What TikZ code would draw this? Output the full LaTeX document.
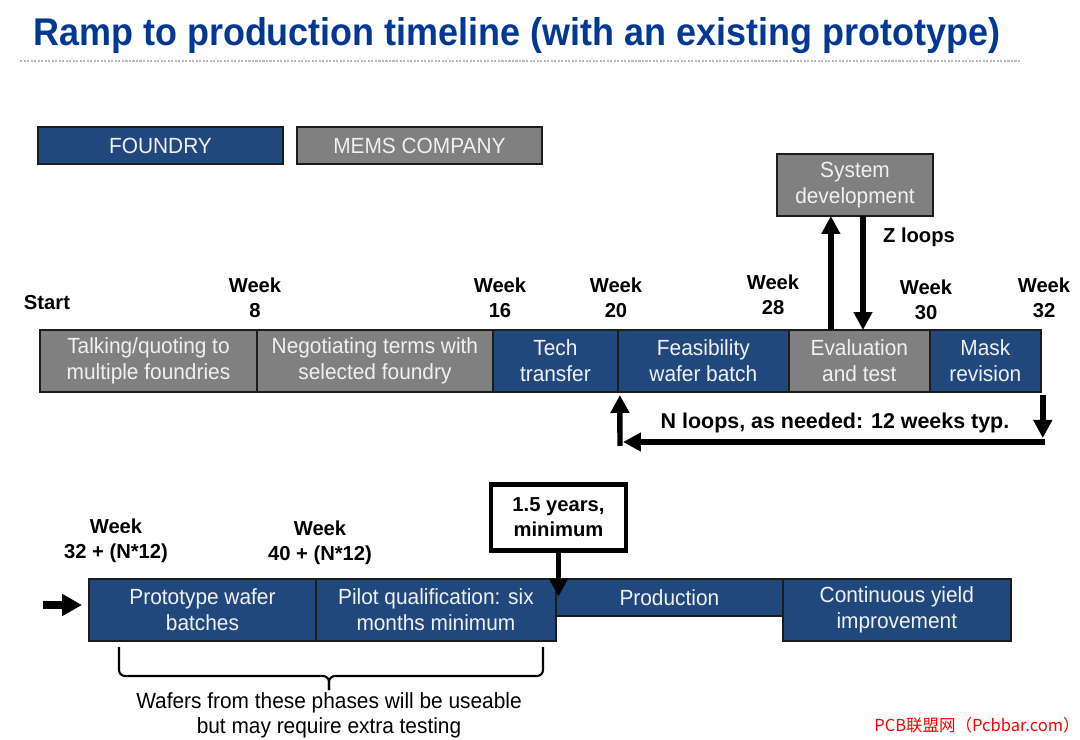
\documentclass[tikz,border=0pt]{standalone}
\usepackage{fontspec}
\setmainfont{Liberation Sans}[FakeStretch=0.95]
\newfontfamily\RampTitleFont{Liberation Sans}[FakeStretch=0.93]
\newfontfamily\RampLabelFont{Liberation Sans}
\newfontfamily\RampMarkFont{Noto Sans CJK SC}
\usetikzlibrary{positioning,arrows.meta}

\definecolor{rampblue}{RGB}{33,72,125}
\definecolor{rampgray}{RGB}{128,128,128}
\definecolor{ramptitle}{RGB}{0,56,147}
\definecolor{rampborder}{RGB}{28,28,28}
\definecolor{ramptext}{RGB}{240,240,240}

\def\RampBoxLW{1.1pt}
\def\RampLoopLW{3.1pt}
\def\RampFeedLW{4.2pt}
\def\RampRowHeight{1.24cm}
\newcommand{\RampStyles}{%
  \tikzset{
    rphase/.style={rectangle, draw=rampborder, line width=\RampBoxLW,
      text=ramptext, align=center, inner sep=0pt, outer sep=0pt,
      minimum height=\RampRowHeight,
      font=\fontsize{12.5}{14.7}\selectfont},
    rphaseFoundry/.style={rphase, fill=rampblue},
    rphaseMems/.style={rphase, fill=rampgray},
    rlegend/.style={rphase, minimum width=4.9cm, minimum height=0.74cm},
    rweek/.style={align=center, inner sep=0pt,
      font=\RampLabelFont\bfseries\fontsize{11.5}{14.2}\selectfont},
    rnote/.style={align=center, inner sep=0pt,
      font=\fontsize{12.5}{14.2}\selectfont},
    rcallout/.style={rectangle, draw=black, line width=2.3pt, fill=white,
      align=center, inner sep=0pt, minimum width=2.7cm, minimum height=1.32cm,
      font=\RampLabelFont\bfseries\fontsize{11.5}{14.2}\selectfont},
    rloop/.style={
      ->, line width=\RampLoopLW,
      >={Triangle[length=0.36cm, width=0.36cm]}},
    rfeed/.style={
      ->, line width=\RampFeedLW,
      >={Triangle[length=0.4cm, width=0.42cm]}},
    rbrace/.style={line width=1.2pt, rounded corners=0.12cm},
    rrule/.style={gray!55, line width=0.9pt, dash pattern=on 1.2pt off 0.8pt},
  }%
}

\begin{document}
\begin{tikzpicture}[x=0.02cm, y=-0.02cm]
  \RampStyles
  \useasboundingbox (0,0) rectangle (1080,740);

  % title
  \node[anchor=base west, inner sep=0pt, text=ramptitle,
    font=\RampTitleFont\bfseries\fontsize{22}{26}\selectfont] (title) at (33,46)
    {Ramp to production timeline (with an existing prototype)};
  \draw[rrule] (20,61) -- (1020,61);

  % legend
  \node[rlegend, fill=rampblue] (legfoundry) at (160.5,145.5) {FOUNDRY};
  \node[rlegend, fill=rampgray, right=0.28cm of legfoundry] (legmems) {MEMS COMPANY};

  % first pass
  \node[rphaseMems, minimum width=4.34cm, anchor=north west] (talk) at (40,330)
    {Talking/quoting to\\multiple foundries};
  \node[rphaseMems, minimum width=4.72cm, right=0pt of talk] (nego)
    {Negotiating terms with\\selected foundry};
  \node[rphaseFoundry, minimum width=2.5cm, right=0pt of nego] (tech)
    {Tech\\transfer};
  \node[rphaseFoundry, minimum width=3.42cm, right=0pt of tech] (feas)
    {Feasibility\\wafer batch};
  \node[rphaseMems, minimum width=2.82cm, right=0pt of feas] (eval)
    {Evaluation\\and test};
  \node[rphaseFoundry, minimum width=2.22cm, right=0pt of eval] (mask)
    {Mask\\revision};
  \node[rphaseMems, minimum width=3.12cm] (sysdev) at (855,185)
    {System\\development};

  \node[rweek] (start) at (47,303) {Start};
  \node[rweek] (wk8) at (255,298) {Week\\8};
  \node[rweek] (wk16) at (500,298) {Week\\16};
  \node[rweek] (wk20) at (616,298) {Week\\20};
  \node[rweek] (wk28) at (773,295) {Week\\28};
  \node[rweek] (wk30) at (926,300) {Week\\30};
  \node[rweek] (wk32) at (1044,298) {Week\\32};

  % Z loops
  \draw[rloop] ([xshift=-0.57cm]eval.north) -- ([xshift=-0.57cm]eval.north |- sysdev.south);
  \draw[rloop] ([xshift=0.16cm]sysdev.south) -- ([xshift=0.16cm]sysdev.south |- eval.north);
  \node[rweek] (zloops) at (919,237) {Z loops};

  % N loops
  \coordinate (ndrop) at ([xshift=0.04cm, yshift=-0.06cm]mask.south east);
  \coordinate (nright) at (1045,442);
  \coordinate (nleft) at (620,446);
  \draw[rloop] (ndrop) -- ++(0,43);
  \draw[rloop, shorten >=0.06cm] (nright) -- (nright -| nleft);
  \draw[rloop] (nleft) -- ([xshift=0.04cm, yshift=-0.06cm]feas.south west);
  \node[rweek, font=\RampLabelFont\bfseries\fontsize{12.2}{14.2}\selectfont]
    (nloops) at (835,423) {N loops, as needed: 12 weeks typ.};

  % second pass
  \node[rphaseFoundry, minimum width=4.54cm, anchor=north west] (proto) at (89,579)
    {Prototype wafer\\batches};
  \node[rphaseFoundry, minimum width=4.8cm, right=0pt of proto] (pilot)
    {Pilot qualification: six\\months minimum};
  \node[rphaseFoundry, minimum width=4.54cm, minimum height=0.74cm,
    anchor=north west] (prod) at (pilot.north east) {Production};
  \node[rphaseFoundry, minimum width=4.56cm, anchor=north west] (yield)
    at (prod.north east) {Continuous yield\\improvement};

  \node[rweek] (wk32n) at (116,541) {Week\\32 + (N*12)};
  \node[rweek] (wk40n) at (320,543) {Week\\40 + (N*12)};

  \node[rcallout] (minimum) at (558.5,517.5) {1.5 years,\\minimum};
  \draw[rloop] (minimum.south) -- ++(0,44);

  \coordinate (feedin) at (43,605);
  \draw[rfeed, shorten >=0.14cm] (feedin) -- (feedin -| proto.west);

  % useable wafers
  \coordinate (braceL) at (119,647);
  \coordinate (braceR) at (543,647);
  \coordinate (braceTip) at (329,690);
  \draw[rbrace] (braceL) -- (braceL |- 0,676) -- (braceTip |- 0,676) -- (braceTip);
  \draw[rbrace] (braceR) -- (braceR |- 0,676) -- (braceTip |- 0,676) -- (braceTip);
  \node[rnote] (wafers) at (329,715)
    {Wafers from these phases will be useable\\but may require extra testing};

  \node[text=red, inner sep=0pt, font=\RampMarkFont\fontsize{9.4}{10}\selectfont]
    (mark) at (977,725) {PCB联盟网（Pcbbar.com）};
\end{tikzpicture}
\end{document}
